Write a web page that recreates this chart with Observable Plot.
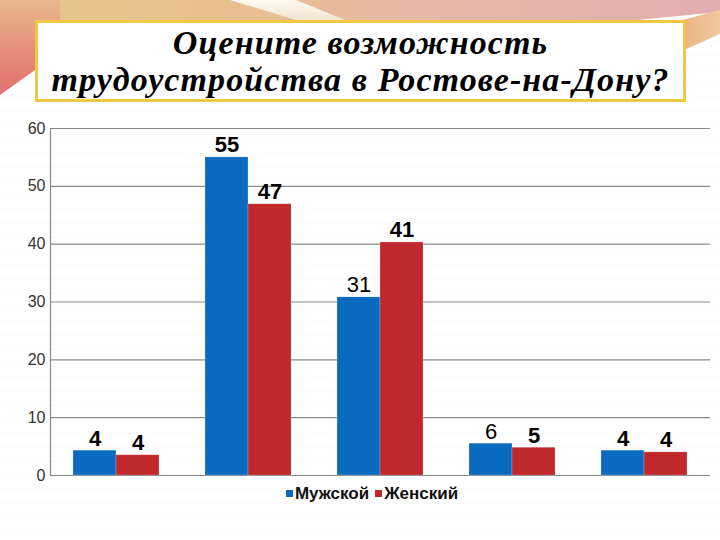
<!DOCTYPE html>
<html>
<head>
<meta charset="utf-8">
<script src="https://cdn.jsdelivr.net/npm/d3@7"></script>
<script src="https://cdn.jsdelivr.net/npm/@observablehq/plot@0.6"></script>
<style>
  html, body { margin: 0; padding: 0; }
  body {
    width: 720px; height: 540px; position: relative; overflow: hidden;
    background: #fff repeating-linear-gradient(180deg, #fff 0px, #fff 13px, #f6f6f6 14px);
    font-family: "Liberation Sans", Arial, sans-serif;
  }
  .deco { position: absolute; }
  #d1 { left: 0; top: 0; width: 720px; height: 40px;
        background: linear-gradient(90deg, #e6c68e 0%, #e8c08e 30%, #e6b8a8 60%, #e2aeb0 100%);
        clip-path: polygon(0 0, 100% 0, 100% 30%, 60% 100%, 0 100%); }
  #d1b { left: 230px; top: 0; width: 120px; height: 22px;
        background: linear-gradient(180deg, #fffaf0, #f3e2cf);
        clip-path: polygon(0 0, 55% 0, 100% 100%, 60% 100%); }
  #d2 { left: 0; top: 0; width: 60px; height: 95px;
        background: linear-gradient(180deg, #e8b88c 0%, #e48a78 60%, #e27070 100%);
        clip-path: polygon(0 0, 100% 0, 100% 55%, 0 100%); }
  #d3 { left: 660px; top: 10px; width: 60px; height: 40px;
        background: linear-gradient(90deg, #e8a870, #f0c8a0);
        clip-path: polygon(0 40%, 100% 0, 100% 60%, 40% 100%, 0 100%); }
  #title {
    position: absolute; left: 35px; top: 20px; width: 645px; height: 75px;
    background: #fff; border: 3px solid #f2c744;
    font-family: "Liberation Serif", "DejaVu Serif", serif;
    font-style: italic; font-weight: bold; font-size: 34px; line-height: 37px;
    letter-spacing: 1.1px;
    text-align: center; color: #000; padding-top: 1px;
  }
  #chart { position: absolute; left: 0; top: 110px; }
  #chart svg g[aria-label="y-axis tick label"] text { font-size: 16px !important; }
  #legend {
    position: absolute; left: 0; width: 744px; top: 484px; text-align: center;
    font-family: "Liberation Sans", Arial, sans-serif; font-weight: bold; font-size: 17px; color: #111;
  }
  #legend span.sw { display: inline-block; width: 7px; height: 7px; margin-right: 2px; vertical-align: 2px; }
  #legend span.item { margin: 0 3px; }
</style>
</head>
<body>
<div class="deco" id="d1"></div>
<div class="deco" id="d1b"></div>
<div class="deco" id="d2"></div>
<div class="deco" id="d3"></div>
<div id="title">Оцените возможность<br>трудоустройства в Ростове-на-Дону?</div>
<div id="chart"></div>
<div id="legend"></div>
<script>
// Data
const groups = ["A", "B", "C", "D", "E"];
const seriesNames = ["Мужской", "Женский"];
const seriesColors = ["#0a6abf", "#c0282c"];
const maleValues = [4.3, 55, 30.8, 5.5, 4.3];
const femaleValues = [3.5, 46.9, 40.3, 4.8, 4.0];
const maleLabels = ["4", "55", "31", "6", "4"];
const femaleLabels = ["4", "47", "41", "5", "4"];
const yTicks = [0, 10, 20, 30, 40, 50, 60];

const rows = [];
groups.forEach((g, i) => {
  rows.push({group: g, series: seriesNames[0], value: maleValues[i], label: maleLabels[i]});
  rows.push({group: g, series: seriesNames[1], value: femaleValues[i], label: femaleLabels[i]});
});
const plainLabels = new Set(["31", "6"]);

const plot = Plot.plot({
  width: 720,
  height: 375,
  marginLeft: 49,
  marginRight: 10,
  marginTop: 18,
  marginBottom: 10,
  style: {background: "transparent", fontFamily: "Liberation Sans, Arial, sans-serif", fontSize: "16px"},
  fx: {domain: groups, paddingInner: 0, paddingOuter: 0, axis: null},
  x: {domain: seriesNames, paddingInner: 0, paddingOuter: 0.52, axis: null},
  y: {domain: [0, 60], ticks: yTicks, label: null},
  color: {domain: seriesNames, range: seriesColors},
  marks: [
    Plot.gridY(yTicks, {stroke: "#8a8a8a", strokeOpacity: 1, strokeWidth: 1.2}),
    Plot.frame({anchor: "left", facetAnchor: "left", stroke: "#8a8a8a", strokeWidth: 1.2}),
    Plot.axisY({ticks: yTicks, tickSize: 0, tickPadding: 5, fontSize: 16, fill: "#333", label: null, facetAnchor: "left"}),
    Plot.barY(rows, {fx: "group", x: "series", y: "value", fill: "series", stroke: "#ffffff", strokeOpacity: 0.35, strokeWidth: 0.6}),
    Plot.text(rows.filter(d => !plainLabels.has(d.label)), {fx: "group", x: "series", y: "value", text: "label",
      lineAnchor: "bottom", dy: -5, fontSize: 22, fontWeight: "bold", fill: "#000"}),
    Plot.text(rows.filter(d => plainLabels.has(d.label)), {fx: "group", x: "series", y: "value", text: "label",
      lineAnchor: "bottom", dy: -5, fontSize: 22, fontWeight: "normal", fill: "#000"})
  ]
});
document.getElementById("chart").appendChild(plot);

const legend = document.getElementById("legend");
seriesNames.forEach((s, i) => {
  const item = document.createElement("span");
  item.className = "item";
  const sw = document.createElement("span");
  sw.className = "sw";
  sw.style.background = seriesColors[i];
  item.appendChild(sw);
  item.appendChild(document.createTextNode(s));
  legend.appendChild(item);
});
</script>
</body>
</html>
